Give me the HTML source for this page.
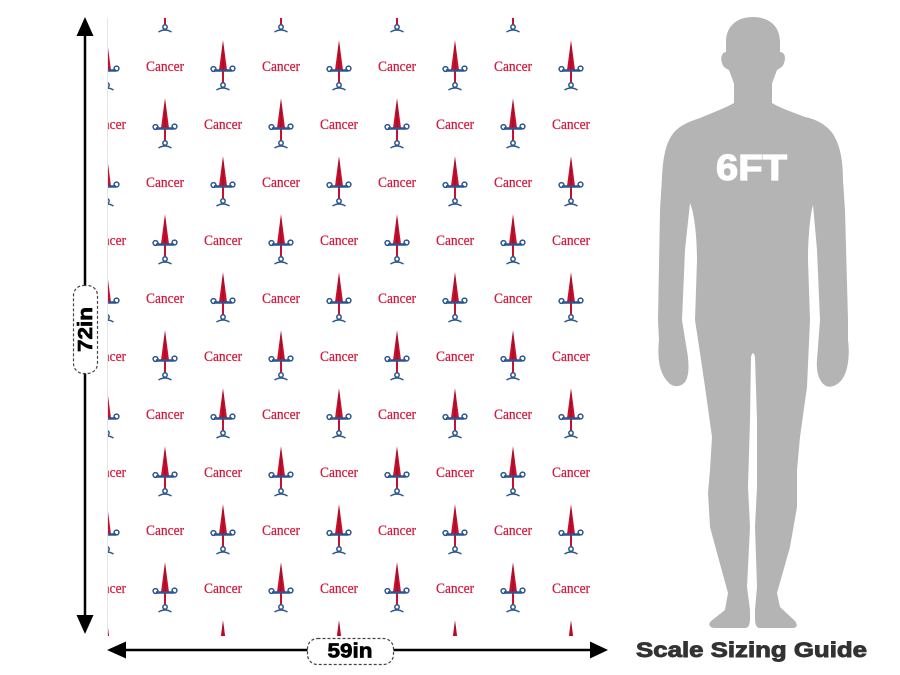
<!DOCTYPE html>
<html>
<head>
<meta charset="utf-8">
<style>
html,body{margin:0;padding:0;background:#fff;}
svg{display:block;}
</style>
</head>
<body>
<svg width="900" height="675" viewBox="0 0 900 675" xmlns="http://www.w3.org/2000/svg">
  <defs>
    <g id="ico">
      <polygon points="0,-26 -4,4 4,4" fill="#c8102e"/>
      <line x1="0" y1="-22" x2="0" y2="4" stroke="#8e0a20" stroke-width="0.9"/>
      <rect x="-1" y="4" width="2" height="13" fill="#c8102e"/>
      <line x1="-9" y1="4.5" x2="9" y2="4.5" stroke="#2a5590" stroke-width="2.4"/>
      <circle cx="-9.5" cy="3" r="2.4" fill="none" stroke="#2a5590" stroke-width="1.5"/>
      <circle cx="9.5" cy="2.5" r="2.4" fill="none" stroke="#2a5590" stroke-width="1.5"/>
      <circle cx="0" cy="19" r="2.2" fill="none" stroke="#2a5590" stroke-width="1.5"/>
      <path d="M -6.5 24 Q 0 20 6.5 24" fill="none" stroke="#2a5590" stroke-width="1.5"/>
    </g>
    <pattern id="pat" patternUnits="userSpaceOnUse" x="136" y="37" width="116" height="116">
      <text x="29" y="34" text-anchor="middle" font-family="Liberation Serif, serif" font-size="15" fill="#cf1b3f" stroke="#cf1b3f" stroke-width="0.25" textLength="38" lengthAdjust="spacingAndGlyphs">Cancer</text>
      <use href="#ico" x="87" y="29"/>
      <use href="#ico" x="29" y="87"/>
      <text x="87" y="92" text-anchor="middle" font-family="Liberation Serif, serif" font-size="15" fill="#cf1b3f" stroke="#cf1b3f" stroke-width="0.25" textLength="38" lengthAdjust="spacingAndGlyphs">Cancer</text>
    </pattern>
  </defs>

  <!-- pattern area -->
  <rect x="107" y="18" width="493" height="618" fill="url(#pat)"/>
  <line x1="107.5" y1="18" x2="107.5" y2="636" stroke="#e6e6e6" stroke-width="1"/>

  <!-- vertical arrow -->
  <line x1="85" y1="32" x2="85" y2="620" stroke="#000" stroke-width="2.5"/>
  <polygon points="85,17 76.5,36 93.5,36" fill="#000"/>
  <polygon points="85,634 76.5,615 93.5,615" fill="#000"/>
  <rect x="73.5" y="285.5" width="24" height="88" rx="10" ry="10" fill="#fff" stroke="#444" stroke-width="1.2" stroke-dasharray="3,2"/>
  <text transform="translate(92,329.5) rotate(-90)" text-anchor="middle" font-family="Liberation Sans, Arial, sans-serif" font-weight="bold" font-size="20" fill="#000" stroke="#000" stroke-width="0.7" textLength="45" lengthAdjust="spacingAndGlyphs">72in</text>

  <!-- horizontal arrow -->
  <line x1="122" y1="650" x2="594" y2="650" stroke="#000" stroke-width="2.5"/>
  <polygon points="107,650 126,641.5 126,658.5" fill="#000"/>
  <polygon points="608,650 590,641.5 590,658.5" fill="#000"/>
  <rect x="307.5" y="638.5" width="86" height="26" rx="10" ry="10" fill="#fff" stroke="#444" stroke-width="1.2" stroke-dasharray="3,2"/>
  <text x="350" y="657.5" text-anchor="middle" font-family="Liberation Sans, Arial, sans-serif" font-weight="bold" font-size="20" fill="#000" stroke="#000" stroke-width="0.7" textLength="45" lengthAdjust="spacingAndGlyphs">59in</text>

  <!-- silhouette -->
  <path fill="#b4b4b4" d="
    M 753 17
    C 770 17 780 27 780 42
    L 780 52
    C 785 52 786 58 784 63
    C 783 67 780 68 777 70
    C 775 76 773 80 772 84
    L 772 103
    C 780 108 795 113 805 117
    C 815 119 826 124 833 134
    C 840 145 843 160 843 180
    L 845 210
    L 848 320
    L 848 340
    C 850 355 848 370 843 378
    C 838 386 830 388 826 386
    C 819 382 816 372 817 360
    L 820 320
    L 817 250
    L 813 205
    C 810 215 808 240 808 260
    L 810 320
    L 807 387
    L 800 437
    L 797 470
    L 797 507
    L 790 547
    L 777 593
    L 780 607
    L 795 621
    C 798 625 797 628 793 628
    L 760 628
    C 756 628 755 624 755 618
    L 755 610
    L 757 587
    L 755 527
    L 757 487
    L 757 420
    L 755 357
    C 754 352 752 352 751 357
    L 750 420
    L 748 487
    L 750 527
    L 747 587
    L 750 610
    L 750 618
    C 750 624 749 628 745 628
    L 715 628
    C 709 628 708 624 711 621
    L 725 610
    L 728 593
    L 717 553
    L 710 527
    L 708 493
    L 710 470
    L 712 437
    L 705 387
    L 700 353
    L 695 320
    L 697 260
    C 697 240 695 215 690 203
    L 685 250
    L 682 320
    L 686 345
    C 689 360 690 375 685 382
    C 681 387 673 388 668 382
    C 660 374 657 360 659 340
    L 658 320
    L 660 210
    L 662 177
    C 663 160 665 145 672 135
    C 678 126 688 122 700 118
    C 712 113 725 108 734 103
    L 734 84
    C 733 80 731 76 729 70
    C 725 68 723 67 722 63
    C 720 58 722 52 726 52
    L 726 42
    C 726 27 736 17 753 17 Z"/>
  <text x="751.5" y="180" text-anchor="middle" font-family="Liberation Sans, Arial, sans-serif" font-weight="bold" font-size="36" fill="#fff" stroke="#fff" stroke-width="1.2" textLength="71" lengthAdjust="spacingAndGlyphs">6FT</text>

  <text x="751.5" y="657" text-anchor="middle" font-family="Liberation Sans, Arial, sans-serif" font-weight="bold" font-size="21.5" fill="#333" stroke="#333" stroke-width="0.9" textLength="231" lengthAdjust="spacingAndGlyphs">Scale Sizing Guide</text>
</svg>
</body>
</html>
